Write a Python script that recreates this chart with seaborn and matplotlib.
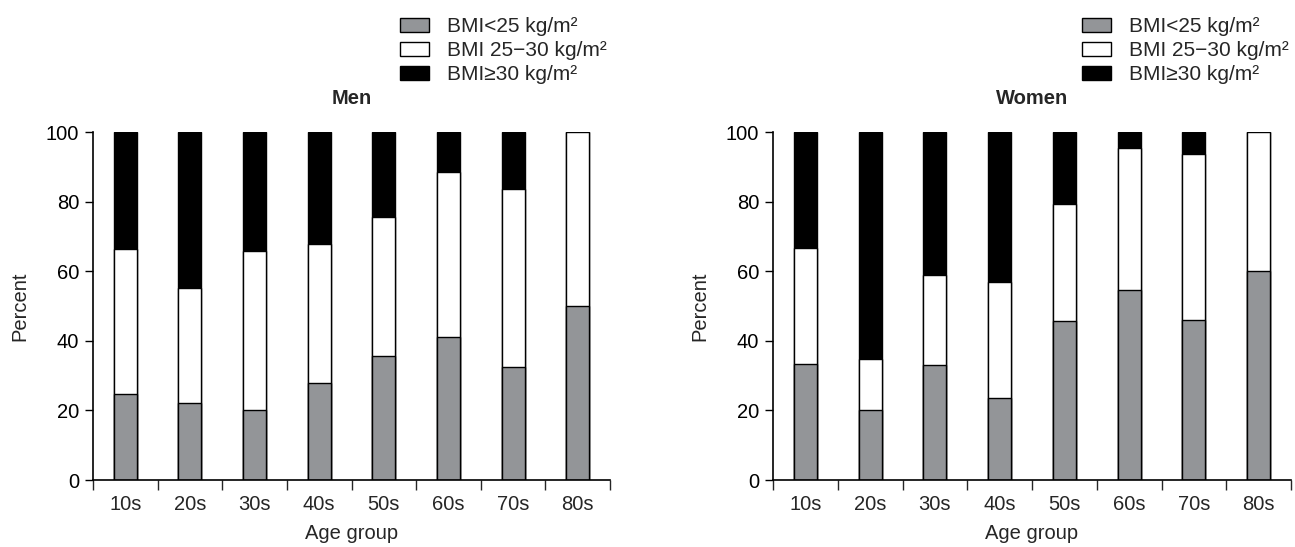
import numpy as np
import matplotlib
matplotlib.use("Agg")
import matplotlib.pyplot as plt
import matplotlib.patches as mpatches
import seaborn as sns
import pandas as pd

sns.set_style("ticks")
plt.rcParams["font.family"] = ["Liberation Sans", "DejaVu Sans"]

age_groups = ["10s", "20s", "30s", "40s", "50s", "60s", "70s", "80s"]

# percent per BMI class
men_normal = [24.8, 22.2, 20.0, 27.8, 35.5, 41.2, 32.6, 50.0]
men_over = [41.6, 33.1, 45.8, 40.0, 40.2, 47.4, 50.9, 50.0]
men_obese = [33.6, 44.7, 34.2, 32.2, 24.3, 11.4, 16.5, 0.0]

women_normal = [33.3, 20.0, 33.0, 23.5, 45.8, 54.6, 46.0, 60.0]
women_over = [33.4, 14.8, 25.8, 33.5, 33.5, 40.8, 47.6, 40.0]
women_obese = [33.3, 65.2, 41.2, 43.0, 20.7, 4.6, 6.4, 0.0]

legend_labels = ["BMI<25 kg/m²", "BMI 25\u221230 kg/m²", "BMI\u226530 kg/m²"]
colors = ["#939598", "white", "black"]

W, H = 1295, 547
fig = plt.figure(figsize=(W / 100, H / 100), dpi=100)
ax_men = fig.add_axes([93/W, 1-480/H, 517/W, 348/H])
ax_women = fig.add_axes([773/W, 1-480/H, 518/W, 348/H])


def draw_panel(ax, normal, over, obese, title, legend_x):
    df = pd.DataFrame({"age": age_groups, "normal": normal, "over": over, "obese": obese})
    df["top"] = df["normal"] + df["over"] + df["obese"]
    df["mid"] = df["normal"] + df["over"]
    # stacked bars drawn as overlapping cumulative totals
    for col, c in zip(["top", "mid", "normal"], ["black", "white", "#939598"]):
        sns.barplot(data=df, x="age", y=col, color=c, width=0.355, edgecolor="black",
                    linewidth=1.0, ax=ax, saturation=1)
    ax.set_xlim(-0.5, 7.5)
    ax.set_ylim(0, 100)
    ax.set_yticks([0, 20, 40, 60, 80, 100])
    ax.tick_params(axis="y", labelsize=14.5, length=6, width=1, colors="black", pad=4)
    ax.set_xticks(range(8))
    ax.set_xticklabels(age_groups)
    ax.tick_params(axis="x", which="major", length=0, labelsize=14.5, pad=11)
    ax.set_xticks(np.arange(-0.5, 8.0, 1.0), minor=True)
    ax.tick_params(axis="x", which="minor", length=7, width=1, direction="out")
    ax.set_xlabel("Age group", fontsize=14.5, labelpad=7)
    ax.set_ylabel("Percent", fontsize=14.5, labelpad=12)
    ax.set_title(title, fontsize=14.5, fontweight="bold", pad=20)
    for s in ["top", "right"]:
        ax.spines[s].set_visible(False)
    for s in ["left", "bottom"]:
        ax.spines[s].set_linewidth(1.2)
        ax.spines[s].set_color("black")
    handles = [mpatches.Patch(facecolor=c, edgecolor="black", linewidth=1.0) for c in colors]
    fig.legend(handles, legend_labels, loc="upper left", bbox_to_anchor=(legend_x / W, 1 - 17 / H),
               frameon=False, fontsize=15, handlelength=1.4, handleheight=0.67,
               labelspacing=0.25, handletextpad=0.85, borderaxespad=0, borderpad=0)


draw_panel(ax_men, men_normal, men_over, men_obese, "Men", 400)
draw_panel(ax_women, women_normal, women_over, women_obese, "Women", 1082)

fig.savefig("out.png", dpi=100)
